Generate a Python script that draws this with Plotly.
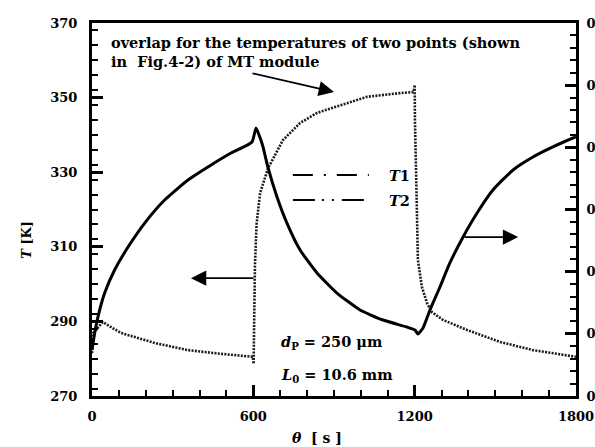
import plotly.graph_objects as go

# Dotted curve: temperature (left axis, K)
t_dot_theta = [0, 4, 40, 108, 234, 357, 481, 598, 601, 603, 606, 612, 625, 655, 710, 774, 837,
               896, 1022, 1145, 1196, 1200, 1201, 1209, 1212, 1227, 1246, 1264, 1305, 1395, 1517,
               1640, 1800]
t_dot_T = [281.5, 286.9, 289.8, 286.9, 284.2, 282.3, 281.3, 280.5, 278.6, 290.0, 305.0, 316.0,
           324.4, 331.1, 338.6, 343.2, 345.9, 347.3, 350.2, 351.2, 351.5, 353.4, 344.0, 317.2,
           306.5, 299.2, 294.9, 292.5, 290.4, 287.7, 284.5, 282.3, 280.5]

# Thick curve: right-axis quantity
t_thick_theta = [0, 10, 22, 47, 84, 134, 196, 270, 357, 443, 517, 595, 610, 628, 636, 655, 688,
                 725, 774, 837, 911, 997, 1082, 1171, 1201, 1212, 1231, 1257, 1294, 1331, 1380,
                 1432, 1491, 1566, 1640, 1714, 1789, 1800]
t_thick_v = [0.00370, 0.00507, 0.00635, 0.00828, 0.01013, 0.01198, 0.01391, 0.01576, 0.01737,
             0.01858, 0.01954, 0.02043, 0.02156, 0.02059, 0.02003, 0.01834, 0.01601, 0.01391,
             0.01174, 0.00989, 0.00828, 0.00692, 0.00611, 0.00555, 0.00531, 0.00499, 0.00547,
             0.00692, 0.00877, 0.01070, 0.01279, 0.01472, 0.01657, 0.01818, 0.01922, 0.02003,
             0.02075, 0.02083]

x_ticks = [0, 600, 1200, 1800]
y_ticks = [270, 290, 310, 330, 350, 370]
y2_ticks = [0.000, 0.005, 0.010, 0.015, 0.020, 0.025, 0.030]

FONT = "DejaVu Serif"
tickfont = dict(family=FONT, size=13, color="black", weight="bold")

fig = go.Figure()
fig.add_trace(go.Scatter(x=t_dot_theta, y=t_dot_T, mode="lines",
                         line=dict(color="#1a1a1a", width=2.6, dash="2px,1.3px"),
                         showlegend=False, yaxis="y"))
fig.add_trace(go.Scatter(x=t_thick_theta, y=t_thick_v, mode="lines",
                         line=dict(color="black", width=3, shape="spline", smoothing=0.5),
                         showlegend=False, yaxis="y2"))

fig.update_layout(
    width=595, height=447,
    margin=dict(l=92, r=19, t=23, b=51),
    paper_bgcolor="white", plot_bgcolor="white",
    xaxis=dict(range=[0, 1800], tickvals=x_ticks, ticktext=[str(v) for v in x_ticks],
               ticks="inside", ticklen=11, tickwidth=2.5, tickcolor="black",
               minor=dict(dtick=100, ticks="inside", ticklen=6, tickwidth=2, tickcolor="black"),
               showline=True, linewidth=3, linecolor="black", mirror=True, automargin=False,
               showgrid=False, zeroline=False, tickfont=tickfont, ticklabelstandoff=6),
    yaxis=dict(range=[270, 370], tickvals=y_ticks, ticktext=[str(v) for v in y_ticks],
               ticks="inside", ticklen=11, tickwidth=2.5, tickcolor="black",
               minor=dict(dtick=4, ticks="inside", ticklen=6, tickwidth=2, tickcolor="black"),
               showline=True, linewidth=3, linecolor="black", automargin=False,
               showgrid=False, zeroline=False, tickfont=tickfont, ticklabelstandoff=9),
    yaxis2=dict(range=[0, 0.030], overlaying="y", side="right",
                tickvals=y2_ticks, ticktext=[f"{v:.3f}" for v in y2_ticks],
                ticks="inside", ticklen=11, tickwidth=2.5, tickcolor="black",
                minor=dict(dtick=0.001, ticks="inside", ticklen=6, tickwidth=2, tickcolor="black"),
                showline=True, linewidth=3, linecolor="black", automargin=False,
                showgrid=False, zeroline=False, tickfont=tickfont, ticklabelstandoff=5),
    showlegend=False,
)

bold = dict(family=FONT, size=13, color="black", weight="bold")
note = dict(family=FONT, size=14.5, color="black", weight="bold")

# Axis titles
fig.add_annotation(text="<i>T</i> [K]", xref="paper", yref="paper", x=-0.155, y=0.42,
                   textangle=-90, showarrow=False, font=bold)
fig.add_annotation(text="<i>θ</i>  [ s ]", xref="paper", yref="paper", x=0.465, y=-0.113,
                   showarrow=False, font=dict(family=FONT, size=14, color="black", weight="bold"),
                   yanchor="middle")

# Overlap note
fig.add_annotation(text="overlap for the temperatures of two points (shown",
                   xref="paper", yref="paper", x=0.035, y=(396 - 42) / 373,
                   xanchor="left", yanchor="middle", showarrow=False, font=note)
fig.add_annotation(text="in  Fig.4-2) of MT module",
                   xref="paper", yref="paper", x=0.035, y=(396 - 62) / 373,
                   xanchor="left", yanchor="middle", showarrow=False, font=note)
fig.add_annotation(text="", xref="x", yref="y", x=900, y=351.5, ax=-83, ay=-19,
                   showarrow=True, arrowhead=2, arrowsize=1.7, arrowwidth=1.8, arrowcolor="black")

# Axis-direction arrows
fig.add_annotation(text="", xref="x", yref="y", x=368, y=301.6, ax=64, ay=0,
                   showarrow=True, arrowhead=2, arrowsize=1.7, arrowwidth=1.8, arrowcolor="black")
fig.add_annotation(text="", xref="x", yref="y", x=1585, y=312.6, ax=-55, ay=0,
                   showarrow=True, arrowhead=2, arrowsize=1.7, arrowwidth=1.8, arrowcolor="black")

# Key
key_y = [(396 - 175) / 373, (396 - 200) / 373]
key_dash = ["20px,11px,2px,11px", "22px,7px,2px,8px,2px,8px"]
key_label = ["<i>T</i>1", "<i>T</i>2"]
for yy, dd, lab in zip(key_y, key_dash, key_label):
    fig.add_shape(type="line", xref="paper", yref="paper", x0=0.415, x1=0.572, y0=yy, y1=yy,
                  line=dict(color="black", width=2, dash=dd))
    fig.add_annotation(text=lab, xref="paper", yref="paper", x=0.61, y=yy,
                       xanchor="left", yanchor="middle", showarrow=False, font=note)

# Parameters
fig.add_annotation(text="<i>d</i><sub>P</sub> = 250 μm", xref="paper", yref="paper",
                   x=(279 - 92) / 484, y=(396 - 342) / 373, xanchor="left", yanchor="middle",
                   showarrow=False, font=note)
fig.add_annotation(text="<i>L</i><sub>0</sub> = 10.6 mm", xref="paper", yref="paper",
                   x=(279 - 92) / 484, y=(396 - 375) / 373, xanchor="left", yanchor="middle",
                   showarrow=False, font=note)

fig.write_html("out.html")
